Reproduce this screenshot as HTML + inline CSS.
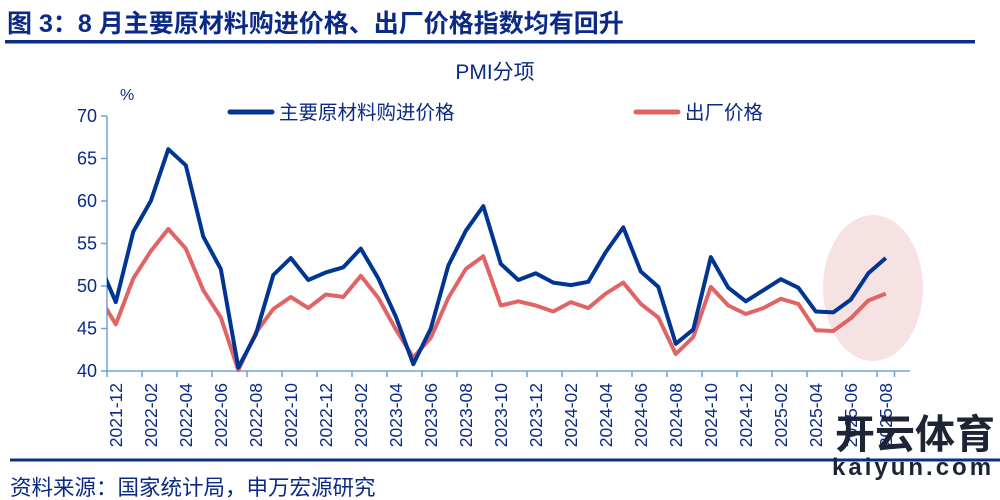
<!DOCTYPE html>
<html><head><meta charset="utf-8"><style>
body{margin:0;width:1000px;height:500px;background:#fff;overflow:hidden;font-family:"Liberation Sans","Noto Sans CJK SC",sans-serif;}
</style></head><body>
<svg width="1000" height="500" xmlns="http://www.w3.org/2000/svg" style="position:absolute;left:0;top:0">
<text x="7" y="32" font-size="25" font-weight="bold" fill="#0a2a86" font-family="Liberation Sans,Noto Sans CJK SC,sans-serif">图 3：8 月主要原材料购进价格、出厂价格指数均有回升</text>
<rect x="5" y="40" width="970" height="3.5" fill="#0a2d8a"/>
<text x="495" y="79" font-size="21" fill="#0a2a86" text-anchor="middle" font-family="Liberation Sans,Noto Sans CJK SC,sans-serif">PMI分项</text>
<text x="120" y="100" font-size="16" fill="#0a2a86">%</text>
<line x1="230" y1="112" x2="272" y2="112" stroke="#003591" stroke-width="5" stroke-linecap="round"/>
<text x="279" y="119" font-size="19.5" fill="#0a2a86" font-family="Liberation Sans,Noto Sans CJK SC,sans-serif">主要原材料购进价格</text>
<line x1="636" y1="112" x2="678" y2="112" stroke="#e06464" stroke-width="5" stroke-linecap="round"/>
<text x="685" y="119" font-size="19.5" fill="#0a2a86" font-family="Liberation Sans,Noto Sans CJK SC,sans-serif">出厂价格</text>
<ellipse cx="873" cy="288" rx="50" ry="73" fill="#f6e2e2"/>
<g stroke="#6fa3d8" stroke-width="1.5" fill="none">
<line x1="107" y1="116" x2="107" y2="372"/>
<line x1="107" y1="371" x2="910" y2="371"/>
</g>
<g id="yt" stroke="#6fa3d8" stroke-width="1.5"></g>
<g id="xt" stroke="#6fa3d8" stroke-width="1.5"></g>
<g id="yl" font-size="18" fill="#0a2a86" text-anchor="end"></g>
<g id="xl" font-size="17.5" fill="#0a2a86"></g>
<defs><clipPath id="c"><rect x="107" y="100" width="820" height="290"/></clipPath></defs>
<g clip-path="url(#c)">
<polyline id="red" fill="none" stroke="#e06464" stroke-width="4" stroke-linejoin="round"/>
<polyline id="blue" fill="none" stroke="#003591" stroke-width="4" stroke-linejoin="round"/>
</g>
<rect x="10" y="458.5" width="990" height="3" fill="#0a2d8a"/>
<text x="10" y="495" font-size="21.5" fill="#0a2a86" font-family="Liberation Sans,Noto Sans CJK SC,sans-serif">资料来源：国家统计局，申万宏源研究</text>
<text x="835" y="448" font-size="40" font-weight="bold" fill="#1c2436" font-family="Noto Sans CJK SC,sans-serif">开云体育</text>
<text x="832" y="475" font-size="24" font-weight="bold" fill="#1c2436" letter-spacing="3">kaiyun.com</text>
</svg>
<script>
var ns="http://www.w3.org/2000/svg";
function el(p,t,a,tx){var e=document.createElementNS(ns,t);for(var k in a)e.setAttribute(k,a[k]);if(tx)e.textContent=tx;document.getElementById(p).appendChild(e);}
var y0=371,s=8.5;
for(var v=40;v<=70;v+=5){var y=y0-(v-40)*s;el("yt","line",{x1:101,y1:y,x2:107,y2:y});el("yl","text",{x:97,y:y+6},String(v));}
var x0=107,w=17.5;
var B=[52.9,48.1,56.4,60.0,66.1,64.2,55.8,52.0,40.4,44.3,51.3,53.3,50.7,51.6,52.2,54.4,50.9,46.4,40.8,45.0,52.4,56.5,59.4,52.6,50.7,51.5,50.4,50.1,50.5,54.0,56.9,51.7,49.9,43.2,44.9,53.4,49.8,48.2,49.5,50.8,49.8,47.0,46.9,48.4,51.5,53.3];
var R=[48.9,45.5,50.9,54.1,56.7,54.4,49.5,46.3,40.1,44.5,47.3,48.7,47.4,49.0,48.7,51.2,48.6,44.9,41.6,43.9,48.6,52.0,53.5,47.7,48.2,47.7,47.0,48.1,47.4,49.1,50.4,47.9,46.3,42.0,44.0,49.9,47.7,46.7,47.4,48.5,47.9,44.8,44.7,46.2,48.3,49.1];
function pts(a){return a.map(function(v,i){return (x0+w*(i-0.5)).toFixed(1)+","+(y0-(v-40)*s).toFixed(1)}).join(" ");}
document.getElementById("blue").setAttribute("points",pts(B));
document.getElementById("red").setAttribute("points",pts(R));
var yr=2021,m=12;
for(var i=0;i<45;i++){
 if(i%2==0){var x=x0+w*i;el("xt","line",{x1:x,y1:371,x2:x,y2:377});
  var lab=yr+"-"+(m<10?"0"+m:m);var cx=x+w/2+6;
  el("xl","text",{x:cx,y:383,transform:"rotate(-90 "+cx+" 383)","text-anchor":"end"},lab);}
 m++;if(m>12){m=1;yr++;}
}
el("xt","line",{x1:x0+w*45,y1:371,x2:x0+w*45,y2:377});
</script>
</body></html>
